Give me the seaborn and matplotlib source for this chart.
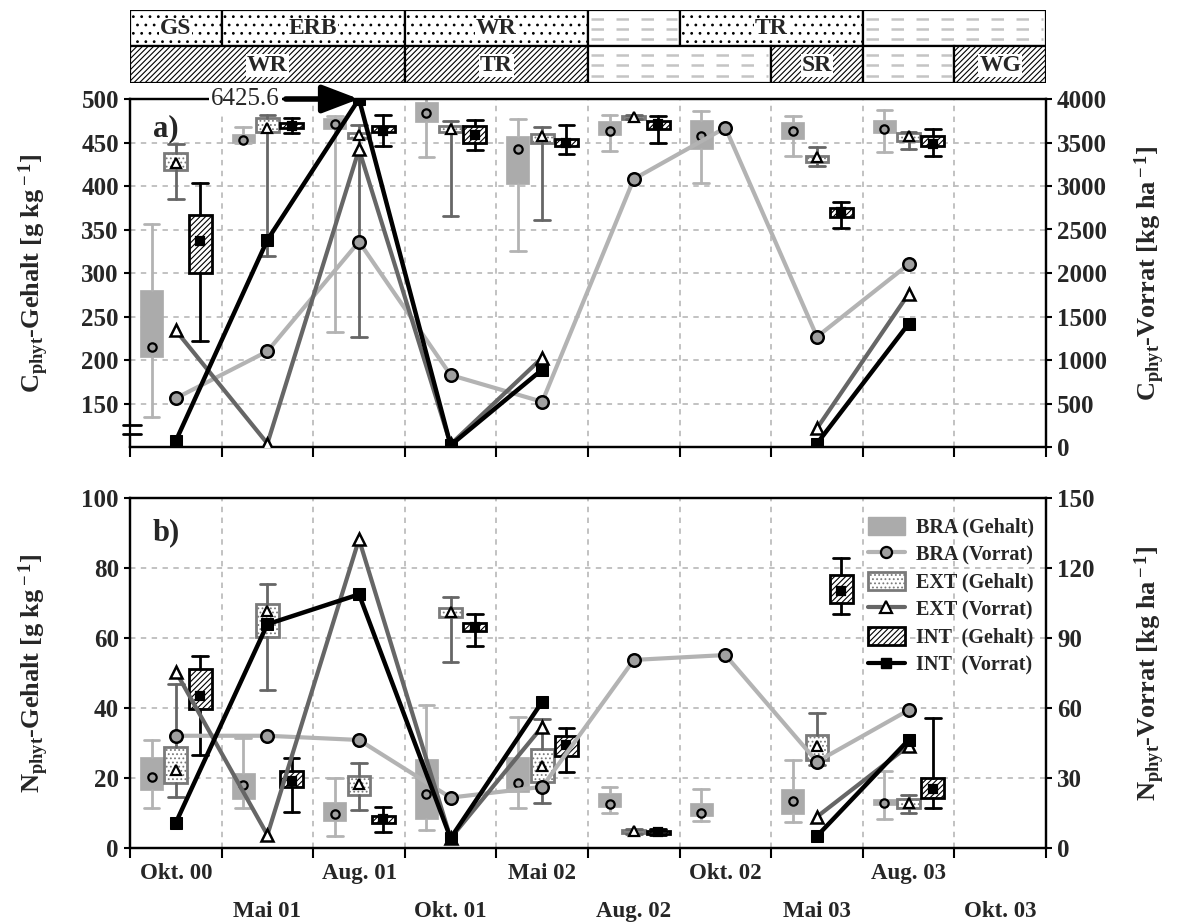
import numpy as np
import pandas as pd
import matplotlib
matplotlib.use("Agg")
import matplotlib.pyplot as plt
import seaborn as sns
from matplotlib.patches import Rectangle, Patch
from matplotlib.lines import Line2D

nan = np.nan
dates = ["Okt. 00", "Mai 01", "Aug. 01", "Okt. 01", "Mai 02",
         "Aug. 02", "Okt. 02", "Mai 03", "Aug. 03", "Okt. 03"]

# ---------------- Panel a: C_phyt-Gehalt [g/kg] box statistics ----------------
ca_bra_lo   = [134, 450, 232, 433, 325, 440, 403, 435, 439, nan]
ca_bra_q1   = [203, 450, 466, 474, 402, 459, 443, 454, 461, nan]
ca_bra_mean = [215, 453, 471, 484, 443, 463, 458, 463, 466, nan]
ca_bra_q3   = [280, 460, 478, 496, 457, 475, 476, 473, 476, nan]
ca_bra_hi   = [356, 468, 481, 506, 477, 482, 486, 480, 487, nan]

ca_ext_lo   = [385, 319, 227, 366, 361, 477, nan, 423, 443, nan]
ca_ext_q1   = [418, 462, 455, 462, 449, 477, nan, 428, 452, nan]
ca_ext_mean = [427, 467, 459, 466, 458, 479, nan, 433, 458, nan]
ca_ext_q3   = [438, 478, 461, 469, 460, 480, nan, 435, 461, nan]
ca_ext_hi   = [448, 482, 470, 475, 468, 482, nan, 445, 462, nan]

ca_int_lo   = [222, 461, 446, 441, 437, 450, nan, 352, 434, nan]
ca_int_q1   = [300, 467, 462, 450, 446, 466, nan, 364, 446, nan]
ca_int_mean = [337, 469, 463, 459, 450, 471, nan, 370, 448, nan]
ca_int_q3   = [367, 472, 469, 469, 454, 475, nan, 375, 457, nan]
ca_int_hi   = [404, 478, 482, 476, 470, 480, nan, 382, 465, nan]

# C_phyt-Vorrat [kg/ha]
ca_bra_vorrat = [560, 1100, 2360, 827, 520, 3080, 3670, 1267, 2100, nan]
ca_ext_vorrat = [1340, 40, 3420, 30, 1026, nan, nan, 215, 1760, nan]
ca_int_vorrat = [70, 2380, 6425.6, 20, 890, nan, nan, 40, 1416, nan]

# ---------------- Panel b: N_phyt-Gehalt [g/kg] box statistics ----------------
nb_bra_lo   = [11.3, 11.3, 3.4, 5.1, 11.3, 10.1, 7.8, 7.5, 8.4, nan]
nb_bra_q1   = [16.7, 14.1, 7.8, 8.4, 16.1, 11.6, 9.1, 9.7, 12.3, nan]
nb_bra_mean = [20.4, 18.0, 9.6, 15.3, 18.5, 12.7, 10.1, 13.4, 12.9, nan]
nb_bra_q3   = [25.9, 21.3, 13.2, 25.3, 25.9, 15.6, 13.0, 17.0, 14.1, nan]
nb_bra_hi   = [31.0, 31.3, 19.9, 40.8, 37.5, 17.3, 16.8, 25.1, 22.0, nan]

nb_ext_lo   = [14.5, 45.1, 10.9, 53.2, 13.0, 4.0, nan, 23.7, 10.1, nan]
nb_ext_q1   = [18.7, 60.4, 15.1, 66.1, 18.9, 4.4, nan, 25.1, 11.3, nan]
nb_ext_mean = [22.3, 67.8, 18.4, 67.5, 23.4, 4.9, nan, 29.2, 12.9, nan]
nb_ext_q3   = [28.9, 69.7, 20.7, 68.7, 28.4, 5.1, nan, 32.3, 13.9, nan]
nb_ext_hi   = [47.0, 75.3, 24.4, 71.8, 37.0, 5.5, nan, 38.5, 15.1, nan]

nb_int_lo   = [26.6, 10.4, 4.7, 57.7, 21.6, 3.8, nan, 67.0, 11.3, nan]
nb_int_q1   = [39.7, 17.5, 7.2, 62.1, 26.3, 4.1, nan, 69.9, 14.4, nan]
nb_int_mean = [43.4, 19.1, 8.2, 63.2, 29.4, 4.5, nan, 73.4, 16.8, nan]
nb_int_q3   = [51.1, 22.0, 9.1, 64.2, 32.1, 4.8, nan, 78.0, 20.0, nan]
nb_int_hi   = [54.9, 25.8, 11.8, 66.9, 34.4, 5.3, nan, 83.0, 37.2, nan]

# N_phyt-Vorrat [kg/ha]
nb_bra_vorrat = [48.1, 48.1, 46.3, 21.6, 26.2, 80.6, 82.7, 37.0, 59.1, nan]
nb_ext_vorrat = [75.6, 5.6, 132.3, 4.2, 52.0, nan, nan, 13.4, 43.8, nan]
nb_int_vorrat = [10.8, 95.9, 108.7, 4.2, 62.7, nan, nan, 5.1, 46.3, nan]

# ---------------- crop strip (periods in sampling-date units) ----------------
crop_row1 = [("GS", 0, 1, "dot"), ("ERB", 1, 3, "dot"), ("WR", 3, 5, "dot"),
             ("", 5, 6, "dash"), ("TR", 6, 8, "dot"), ("", 8, 10, "dash")]
crop_row2 = [("WR", 0, 3, "hatch"), ("TR", 3, 5, "hatch"), ("", 5, 7, "dash"),
             ("SR", 7, 8, "hatch"), ("", 8, 9, "dash"), ("WG", 9, 10, "hatch")]

# ---------------- styling ----------------
sns.set_theme(style="white")
plt.rcParams["font.family"] = ["Liberation Serif", "DejaVu Serif"]
plt.rcParams["font.weight"] = "bold"
plt.rcParams["axes.labelweight"] = "bold"
plt.rcParams["mathtext.fontset"] = "custom"
plt.rcParams["mathtext.rm"] = "Liberation Serif:bold"
plt.rcParams["mathtext.it"] = "Liberation Serif:bold"
plt.rcParams["mathtext.bf"] = "Liberation Serif:bold"
plt.rcParams["mathtext.default"] = "rm"
plt.rcParams["hatch.linewidth"] = 0.8

BRA_FILL = "#ababab"
BRA_LINE = "#b3b3b3"
BRA_MK = "#a0a0a0"
EXT_EDGE = "#7a7a7a"
EXT_LINE = "#666666"
INT_COL = "black"
GRID_COL = "#bdbdbd"

OFF = 0.265
BW = 0.25
CAPW = 0.17

fig = plt.figure(figsize=(11.83, 9.22), dpi=100)
axA = fig.add_axes([130 / 1183, 1 - 447 / 922, 916 / 1183, 348 / 922])
axB = fig.add_axes([130 / 1183, 1 - 848 / 922, 916 / 1183, 350 / 922])
axS = fig.add_axes([130 / 1183, 1 - 83 / 922, 916 / 1183, 73 / 922])


def draw_boxes(ax, lo, q1, mean, q3, hi, offset, face, edge, hatch, wcol,
               marker, mfc, mec, ms, lw):
    stats, pos = [], []
    for i in range(len(lo)):
        if np.isnan(mean[i]):
            continue
        stats.append(dict(whislo=lo[i], q1=q1[i], med=mean[i], mean=mean[i],
                          q3=q3[i], whishi=hi[i], fliers=[]))
        pos.append(i + offset)
    ax.bxp(stats, positions=pos, widths=BW, capwidths=CAPW, showmeans=True,
           meanline=False, patch_artist=True, showfliers=False,
           manage_ticks=False,
           boxprops=dict(facecolor=face, edgecolor=edge, hatch=hatch, linewidth=lw),
           whiskerprops=dict(color=wcol, linewidth=2.0),
           capprops=dict(color=wcol, linewidth=2.0),
           medianprops=dict(linewidth=0),
           meanprops=dict(marker=marker, markerfacecolor=mfc,
                          markeredgecolor=mec, markersize=ms, markeredgewidth=1.6))


def segments_df(values, cap=None):
    rows, seg = [], 0
    prev = False
    for i, v in enumerate(values):
        if np.isnan(v):
            if prev:
                seg += 1
            prev = False
            continue
        y = min(v, cap) if cap is not None else v
        rows.append(dict(x=i, y=y, seg=seg))
        prev = True
    return pd.DataFrame(rows)


def draw_lines(ax2, bra, ext, intv, cap=None):
    sns.lineplot(data=segments_df(bra, cap), x="x", y="y", units="seg", estimator=None,
                 ax=ax2, color=BRA_LINE, lw=3.0, marker="o", markersize=9,
                 markerfacecolor=BRA_MK, markeredgecolor="black",
                 markeredgewidth=1.8, legend=False, zorder=3)
    sns.lineplot(data=segments_df(ext, cap), x="x", y="y", units="seg", estimator=None,
                 ax=ax2, color=EXT_LINE, lw=3.0, marker="^", markersize=9,
                 markerfacecolor="white", markeredgecolor="black",
                 markeredgewidth=1.8, legend=False, zorder=4)
    sns.lineplot(data=segments_df(intv, cap), x="x", y="y", units="seg", estimator=None,
                 ax=ax2, color=INT_COL, lw=3.2, marker="s", markersize=8,
                 markerfacecolor="black", markeredgecolor="black",
                 legend=False, zorder=5)


def setup(ax, ax2, ylim, yticks, ylim2, yticks2, xlabels, ylab, ylab2):
    ax.set_xlim(-0.5, 9.5)
    ax.set_ylim(*ylim)
    ax.set_yticks(yticks)
    ax2.set_ylim(*ylim2)
    ax2.set_yticks(yticks2)
    ax.set_xticks(np.arange(10))
    if xlabels:
        labs = [d if i % 2 == 0 else "\n" + d for i, d in enumerate(dates)]
        ax.set_xticklabels(labs, fontsize=16.5, fontweight="bold")
        for t in ax.get_xticklabels():
            t.set_linespacing(2.05)
    else:
        ax.set_xticklabels([])
    ax.set_xticks(np.arange(-0.5, 10.0, 1.0), minor=True)
    ax.tick_params(axis="x", which="major", length=0, pad=11)
    ax.tick_params(axis="x", which="minor", length=7, width=1.5, direction="out",
                   color="black", bottom=True)
    ax.tick_params(axis="y", length=4, width=1.5, direction="out", left=True,
                   labelsize=18, color="black", pad=4)
    ax2.tick_params(axis="y", length=4, width=1.5, direction="out", right=True,
                    labelsize=18, color="black", pad=4)
    ax.grid(False)
    ax.grid(True, axis="y", which="major", linestyle=(0, (3, 3)), color=GRID_COL, lw=1.3)
    ax.grid(True, axis="x", which="minor", linestyle=(0, (3, 3)), color=GRID_COL, lw=1.3)
    ax.set_axisbelow(True)
    for a in (ax, ax2):
        for s in a.spines.values():
            s.set_color("black")
            s.set_linewidth(1.6)
    ax.set_ylabel(ylab, fontsize=19)
    ax2.set_ylabel(ylab2, fontsize=19, rotation=90)
    ax.yaxis.set_label_coords(-0.086, 0.5)
    ax2.yaxis.set_label_coords(1.094, 0.5)
    ax2.set_xlabel("")
    ax.set_xlabel("")
    for t in ax.get_yticklabels() + ax2.get_yticklabels():
        t.set_fontweight("bold")


def panel(ax, stats_bra, stats_ext, stats_int, vor, cap):
    draw_boxes(ax, *stats_bra, -OFF, BRA_FILL, BRA_FILL, None, BRA_LINE,
               "o", BRA_MK, "black", 6, 0.5)
    draw_boxes(ax, *stats_ext, 0.0, "white", EXT_EDGE, "....", EXT_LINE,
               "^", "white", "black", 6.5, 2.0)
    draw_boxes(ax, *stats_int, OFF, "white", INT_COL, "//////", INT_COL,
               "s", "black", "black", 6, 2.0)
    ax2 = ax.twinx()
    draw_lines(ax2, *vor, cap=cap)
    ax2.set_xlim(-0.5, 9.5)
    return ax2


# ---------------- panel a ----------------
axA2 = panel(axA,
             (ca_bra_lo, ca_bra_q1, ca_bra_mean, ca_bra_q3, ca_bra_hi),
             (ca_ext_lo, ca_ext_q1, ca_ext_mean, ca_ext_q3, ca_ext_hi),
             (ca_int_lo, ca_int_q1, ca_int_mean, ca_int_q3, ca_int_hi),
             (ca_bra_vorrat, ca_ext_vorrat, ca_int_vorrat), cap=4000)
setup(axA, axA2, (100, 500), np.arange(150, 501, 50), (0, 4000), np.arange(0, 4001, 500),
      False, r"C$_{\rm phyt}$-Gehalt [g kg$^{\rm -1}$]",
      r"C$_{\rm phyt}$-Vorrat [kg ha$^{\rm -1}$]")
axA.text(0.025, 0.915, "a)", transform=axA.transAxes, fontsize=22,
         fontweight="bold", va="center", ha="left", zorder=10)

# axis-break marker on the left axis
axA.add_patch(Rectangle((-0.012, 0.037), 0.024, 0.026, transform=axA.transAxes,
                        facecolor="white", edgecolor="none", clip_on=False, zorder=6))
for yb in (0.037, 0.063):
    axA.add_line(Line2D([-0.008, 0.012], [yb, yb], transform=axA.transAxes,
                        color="black", lw=2.0, clip_on=False, zorder=7))

# off-scale value annotation
imax = int(np.nanargmax(ca_int_vorrat))
axA2.annotate("", xy=(imax, 4000), xytext=(1.2, 4000),
              arrowprops=dict(arrowstyle="-|>,head_length=1.1,head_width=0.42",
                              lw=4, color="black", shrinkA=0, shrinkB=0,
                              mutation_scale=20),
              annotation_clip=False, zorder=20)
axA2.text(0.76, 4000, f"{ca_int_vorrat[imax]:.1f}", ha="center", va="center",
          fontsize=18, fontweight="normal", zorder=21, clip_on=False,
          bbox=dict(facecolor="white", edgecolor="none", pad=1.5))

# ---------------- panel b ----------------
axB2 = panel(axB,
             (nb_bra_lo, nb_bra_q1, nb_bra_mean, nb_bra_q3, nb_bra_hi),
             (nb_ext_lo, nb_ext_q1, nb_ext_mean, nb_ext_q3, nb_ext_hi),
             (nb_int_lo, nb_int_q1, nb_int_mean, nb_int_q3, nb_int_hi),
             (nb_bra_vorrat, nb_ext_vorrat, nb_int_vorrat), cap=None)
setup(axB, axB2, (0, 100), np.arange(0, 101, 20), (0, 150), np.arange(0, 151, 30),
      True, r"N$_{\rm phyt}$-Gehalt [g kg$^{\rm -1}$]",
      r"N$_{\rm phyt}$-Vorrat [kg ha$^{\rm -1}$]")
axB.text(0.025, 0.9, "b)", transform=axB.transAxes, fontsize=22,
         fontweight="bold", va="center", ha="left", zorder=10)

handles = [
    Patch(facecolor=BRA_FILL, edgecolor=BRA_FILL, label="BRA (Gehalt)"),
    Line2D([0], [0], color=BRA_LINE, lw=3, marker="o", markerfacecolor=BRA_MK,
           markeredgecolor="black", markersize=8, markeredgewidth=1.6, label="BRA (Vorrat)"),
    Patch(facecolor="white", edgecolor=EXT_EDGE, hatch="....", lw=2, label="EXT (Gehalt)"),
    Line2D([0], [0], color=EXT_LINE, lw=3, marker="^", markerfacecolor="white",
           markeredgecolor="black", markersize=8, markeredgewidth=1.6, label="EXT (Vorrat)"),
    Patch(facecolor="white", edgecolor="black", hatch="//////", lw=2, label="INT  (Gehalt)"),
    Line2D([0], [0], color="black", lw=3, marker="s", markerfacecolor="black",
           markeredgecolor="black", markersize=7, label="INT  (Vorrat)"),
]
leg = axB2.legend(handles=handles, loc="upper left", bbox_to_anchor=(0.795, 0.975),
                  frameon=False, borderpad=0, handlelength=1.8, handleheight=1.0,
                  handletextpad=0.55, labelspacing=0.33,
                  prop=dict(family="Liberation Serif", weight="bold", size=14.5))

# ---------------- crop strip ----------------
axS.set_xlim(-0.5, 9.5)
axS.set_ylim(0, 2)
axS.axis("off")


def strip_row(items, y0):
    for name, a, b, kind in items:
        x0, x1 = a - 0.5, b - 0.5
        if kind == "dot":
            r = Rectangle((x0, y0), x1 - x0, 1, facecolor="white", edgecolor="black",
                          hatch="..", lw=1.6)
        elif kind == "hatch":
            r = Rectangle((x0, y0), x1 - x0, 1, facecolor="white", edgecolor="black",
                          hatch="//////", lw=1.6)
        else:
            r = Rectangle((x0, y0), x1 - x0, 1, facecolor="white", edgecolor="black", lw=1.6)
        axS.add_patch(r)
        if kind == "dash":
            for f in (0.2, 0.48, 0.76):
                axS.plot([x0 + 0.03, x1 - 0.03], [y0 + f, y0 + f], color="#c4c4c4",
                         lw=1.8, linestyle=(0, (5, 5)), zorder=2)
        if name:
            axS.text((x0 + x1) / 2, y0 + 0.48, name, ha="center", va="center",
                     fontsize=17, fontweight="bold", zorder=5,
                     bbox=dict(facecolor="white", edgecolor="none", pad=0.6))


strip_row(crop_row1, 1)
strip_row(crop_row2, 0)

fig.savefig("out.png", dpi=100)
